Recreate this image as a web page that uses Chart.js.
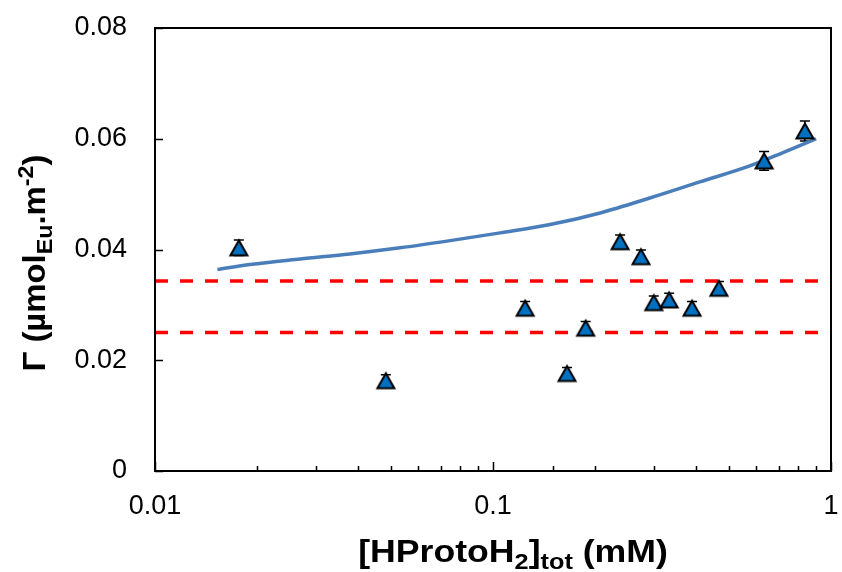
<!DOCTYPE html>
<html>
<head>
<meta charset="utf-8">
<script src="https://cdn.jsdelivr.net/npm/chart.js@4"></script>
<style>
  html, body { margin: 0; padding: 0; background: #fff; }
  #c { display: block; }
</style>
</head>
<body>
<canvas id="c" width="842" height="572"></canvas>
<script>
// measured points
const conc = [0.0177, 0.0482, 0.1245, 0.1656, 0.188, 0.2377, 0.274, 0.299, 0.332, 0.388, 0.466, 0.634, 0.837];
const gamma = [0.0403, 0.0163, 0.0294, 0.0176, 0.0258, 0.0414, 0.0387, 0.0304, 0.0309, 0.0294, 0.0330, 0.0560, 0.0614];
const gammaErr = [0.0014, 0.0011, 0.0012, 0.0011, 0.0012, 0.0012, 0.0012, 0.0012, 0.0012, 0.0012, 0.0012, 0.0017, 0.0018];

// model curve
const fitX = [0.0153, 0.0191, 0.0269, 0.0377, 0.0531, 0.0747, 0.105, 0.1476, 0.2075, 0.291, 0.409, 0.575, 0.721, 0.904];
const fitY = [0.0364, 0.0373, 0.0383, 0.0392, 0.0403, 0.0416, 0.0430, 0.0445, 0.0466, 0.0493, 0.0522, 0.0551, 0.0575, 0.0600];

// horizontal reference levels
const refX = [0.01, 1];
const refUpper = [0.0343, 0.0343];
const refLower = [0.025, 0.025];

const yTicks = [0, 0.02, 0.04, 0.06, 0.08];
const xTickLabels = [0.01, 0.1, 1];

const FONT = "'Liberation Sans', Arial, sans-serif";

const pts = (xs, ys) => xs.map((x, i) => ({ x: x, y: ys[i] }));
const isDecade = v => Math.abs(Math.log10(v) - Math.round(Math.log10(v))) < 1e-9;

// triangle marker centred on its bounding box (like the spreadsheet marker)
function makeTriangle() {
    const cv = document.createElement("canvas");
    cv.width = 22; cv.height = 20;
    const g = cv.getContext("2d");
    g.beginPath();
    g.moveTo(11, 2.5);
    g.lineTo(19.5, 17.5);
    g.lineTo(2.5, 17.5);
    g.closePath();
    g.fillStyle = "#0070C0";
    g.fill();
    g.lineWidth = 2;
    g.lineJoin = "miter";
    g.strokeStyle = "#000";
    g.stroke();
    return cv;
}

// error bars, frame, inward ticks
const frame = {
    id: "frame",
    beforeDatasetsDraw(chart) {
        const ctx = chart.ctx;
        const xs = chart.scales.x, ys = chart.scales.y;
        ctx.save();
        ctx.strokeStyle = "#000";
        ctx.lineWidth = 1.5;
        conc.forEach((c, i) => {
            const px = xs.getPixelForValue(c);
            const top = ys.getPixelForValue(gamma[i] + gammaErr[i]);
            const bot = ys.getPixelForValue(gamma[i] - gammaErr[i]);
            ctx.beginPath();
            ctx.moveTo(px, top); ctx.lineTo(px, bot);
            ctx.moveTo(px - 5, top); ctx.lineTo(px + 5, top);
            ctx.moveTo(px - 5, bot); ctx.lineTo(px + 5, bot);
            ctx.stroke();
        });
        ctx.restore();
    },
    afterDraw(chart) {
        const ctx = chart.ctx;
        const a = chart.chartArea;
        const xs = chart.scales.x, ys = chart.scales.y;
        ctx.save();
        ctx.strokeStyle = "#000";
        ctx.lineWidth = 2;
        ctx.strokeRect(a.left, a.top, a.right - a.left, a.bottom - a.top);
        ctx.beginPath();
        xs.ticks.forEach(t => {
            const px = Math.round(xs.getPixelForValue(t.value)) + 0.5;
            const len = isDecade(t.value) ? 9 : 5;
            ctx.moveTo(px, a.bottom);
            ctx.lineTo(px, a.bottom - len);
        });
        yTicks.forEach(v => {
            const py = Math.round(ys.getPixelForValue(v)) + 0.5;
            ctx.moveTo(a.left, py);
            ctx.lineTo(a.left + 8, py);
        });
        ctx.lineWidth = 1.5;
        ctx.stroke();
        ctx.restore();

        // axis titles with sub/superscripts
        drawRich(ctx, [
            { t: "[HProtoH" }, { t: "2", sub: true }, { t: "]" }, { t: "tot", sub: true }, { t: " (mM)" }
        ], 513, 562, 0, 1.15);
        drawRich(ctx, [
            { t: "Γ (µmol" }, { t: "Eu", sub: true }, { t: ".m" }, { t: "-2", sup: true }, { t: ")" }
        ], 45, 263, -Math.PI / 2, 1.06);
    }
};

function drawRich(ctx, parts, cx, cy, rot, stretch) {
    const big = "bold 31px " + FONT, small = "bold 22px " + FONT;
    let total = 0;
    parts.forEach(p => {
        ctx.font = (p.sub || p.sup) ? small : big;
        p.w = ctx.measureText(p.t).width;
        total += p.w;
    });
    ctx.save();
    ctx.translate(cx, cy);
    ctx.rotate(rot);
    ctx.scale(stretch, 1);
    ctx.fillStyle = "#000";
    ctx.textBaseline = "alphabetic";
    ctx.textAlign = "left";
    let x = -total / 2;
    parts.forEach(p => {
        ctx.font = (p.sub || p.sup) ? small : big;
        let dy = 0;
        if (p.sub) dy = 7;
        if (p.sup) dy = -12;
        ctx.fillText(p.t, x, dy);
        x += p.w;
    });
    ctx.restore();
}

new Chart(document.getElementById("c"), {
    type: "scatter",
    data: {
        datasets: [
            {
                label: "fit",
                data: pts(fitX, fitY),
                showLine: true,
                borderColor: "#4A7EBB",
                borderWidth: 3.5,
                pointRadius: 0,
                cubicInterpolationMode: "monotone",
                order: 3
            },
            {
                label: "upper",
                data: pts(refX, refUpper),
                showLine: true,
                borderColor: "#FF0000",
                borderWidth: 3.5,
                borderDash: [13, 12],
                pointRadius: 0,
                order: 2
            },
            {
                label: "lower",
                data: pts(refX, refLower),
                showLine: true,
                borderColor: "#FF0000",
                borderWidth: 3.5,
                borderDash: [13, 12],
                pointRadius: 0,
                order: 2
            },
            {
                label: "Γ",
                data: pts(conc, gamma),
                pointStyle: makeTriangle(),
                pointRadius: 10,
                order: 1
            }
        ]
    },
    options: {
        responsive: false,
        animation: false,
        devicePixelRatio: 1,
        layout: { padding: { top: 28, right: 9, left: 0, bottom: 0 } },
        plugins: {
            legend: { display: false },
            tooltip: { enabled: false }
        },
        scales: {
            x: {
                type: "logarithmic",
                min: 0.01,
                max: 1,
                grid: { display: false, drawTicks: false },
                border: { display: false },
                ticks: {
                    autoSkip: false,
                    maxRotation: 0,
                    padding: 19,
                    color: "#000",
                    font: { family: FONT, size: 27 },
                    callback: v => xTickLabels.some(t => Math.abs(t - v) < 1e-9) ? String(v) : ""
                },
                afterFit: s => {
                    s.height = 101;
                    s.paddingLeft = 0; s.paddingRight = 0;
                }
            },
            y: {
                min: 0,
                max: 0.08,
                grid: { display: false, drawTicks: false },
                border: { display: false },
                ticks: {
                    stepSize: 0.02,
                    padding: 28,
                    color: "#000",
                    font: { family: FONT, size: 27 },
                    callback: v => v === 0 ? "0" : v.toFixed(2)
                },
                afterFit: s => {
                    s.width = 155;
                    s.paddingTop = 0; s.paddingBottom = 0;
                }
            }
        }
    },
    plugins: [frame]
});
</script>
</body>
</html>
